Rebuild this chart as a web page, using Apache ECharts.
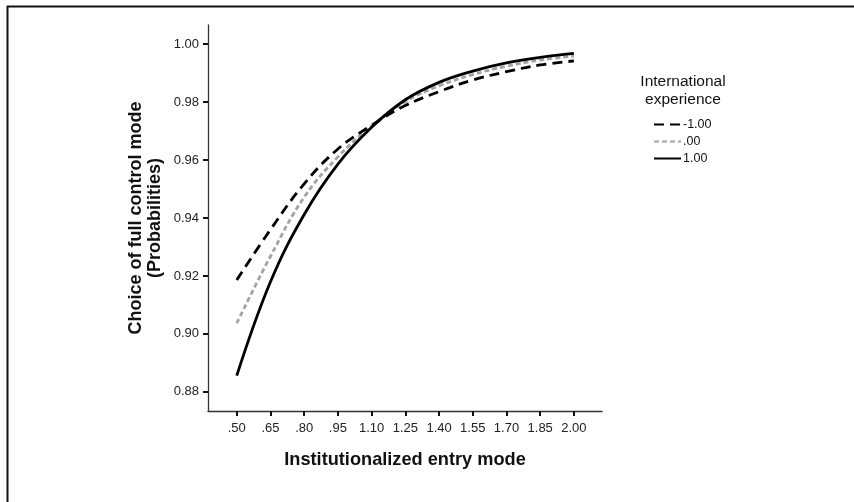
<!DOCTYPE html>
<html>
<head>
<meta charset="utf-8">
<script src="https://cdn.jsdelivr.net/npm/echarts@6/dist/echarts.min.js"></script>
<style>
html,body{margin:0;padding:0;background:#fff;}
#chart{width:854px;height:502px;}
</style>
</head>
<body>
<div id="chart"></div>
<script>
// Data
const xValues = [0.50, 0.65, 0.80, 0.95, 1.10, 1.25, 1.40, 1.55, 1.70, 1.85, 2.00];
const seriesNeg = [0.9186, 0.9360, 0.9518, 0.9638, 0.9720, 0.9788, 0.9836, 0.9876, 0.9905, 0.9928, 0.9942];
const seriesZero = [0.9037, 0.9268, 0.9472, 0.9611, 0.9718, 0.9801, 0.9856, 0.9895, 0.9924, 0.9945, 0.9959];
const seriesPos = [0.8856, 0.9180, 0.9412, 0.9586, 0.9713, 0.9808, 0.9868, 0.9907, 0.9935, 0.9954, 0.9968];
const seriesNames = ['-1.00', '.00', '1.00'];
const xTicks = [0.50, 0.65, 0.80, 0.95, 1.10, 1.25, 1.40, 1.55, 1.70, 1.85, 2.00];
const yTicks = [0.88, 0.90, 0.92, 0.94, 0.96, 0.98, 1.00];

const FONT = '"Liberation Sans", Arial, sans-serif';
const X_MIN = 0.372, X_MAX = 2.125, Y_MIN = 0.8734, Y_MAX = 1.0066;
const pair = (arr) => xValues.map((x, i) => [x, arr[i]]);

const chart = echarts.init(document.getElementById('chart'), null, {renderer: 'canvas'});
chart.setOption({
  animation: false,
  backgroundColor: '#ffffff',
  textStyle: {fontFamily: FONT},
  grid: {left: 208, top: 25, right: 252, bottom: 91, containLabel: false},
  xAxis: {
    type: 'value',
    min: X_MIN, max: X_MAX,
    name: 'Institutionalized entry mode',
    nameLocation: 'middle',
    nameGap: 40,
    nameTextStyle: {fontFamily: FONT, fontSize: 18.2, fontWeight: 'bold', color: '#111'},
    axisLine: {show: true, lineStyle: {color: '#333', width: 1.3}},
    axisTick: {show: true, length: 5, customValues: xTicks, lineStyle: {color: '#111', width: 2}},
    axisLabel: {
      customValues: xTicks, margin: 11, fontFamily: FONT, fontSize: 13, color: '#222',
      formatter: (v) => v.toFixed(2).replace(/^0/, '')
    },
    splitLine: {show: false}
  },
  yAxis: {
    type: 'value',
    min: Y_MIN, max: Y_MAX,
    name: 'Choice of full control mode\n(Probabilities)',
    nameLocation: 'middle',
    nameGap: 43,
    nameRotate: 90,
    nameTextStyle: {fontFamily: FONT, fontSize: 18, fontWeight: 'bold', color: '#111', lineHeight: 19, align: 'center'},
    axisLine: {show: true, lineStyle: {color: '#333', width: 1.3}},
    axisTick: {show: true, length: 5, customValues: yTicks, lineStyle: {color: '#111', width: 2}},
    axisLabel: {
      customValues: yTicks, margin: 9, fontFamily: FONT, fontSize: 13, color: '#222',
      formatter: (v) => v.toFixed(2)
    },
    splitLine: {show: false}
  },
  legend: {
    orient: 'vertical',
    left: 653, top: 118, padding: 0,
    itemWidth: 27, itemHeight: 12, itemGap: 4,
    itemStyle: {color: 'transparent', borderWidth: 0, opacity: 0},
    textStyle: {fontFamily: FONT, fontSize: 12.5, color: '#111', padding: [0, 0, 0, -3]},
    data: seriesNames,
    selectedMode: false
  },
  graphic: [
    {type: 'text', x: 683, y: 73, style: {text: 'International\nexperience', font: '15.5px ' + FONT, fill: '#111', align: 'center', lineHeight: 18}},
    {type: 'line', shape: {x1: 7.5, y1: 6, x2: 7.5, y2: 502}, style: {stroke: '#111', lineWidth: 2}},
    {type: 'line', shape: {x1: 7, y1: 6.5, x2: 854, y2: 6.5}, style: {stroke: '#111', lineWidth: 2}}
  ],
  series: [
    {name: seriesNames[0], type: 'line', data: pair(seriesNeg), smooth: 0.4, symbol: 'none',
     lineStyle: {color: '#000', width: 2.8, type: [10, 6]}, itemStyle: {color: '#000'}, z: 3},
    {name: seriesNames[1], type: 'line', data: pair(seriesZero), smooth: 0.4, symbol: 'none',
     lineStyle: {color: '#a3a3a3', width: 2.8, type: [5, 3]}, itemStyle: {color: '#a3a3a3'}, z: 2},
    {name: seriesNames[2], type: 'line', data: pair(seriesPos), smooth: 0.4, symbol: 'none',
     lineStyle: {color: '#000', width: 2.8}, itemStyle: {color: '#000'}, z: 4}
  ]
});
</script>
</body>
</html>
